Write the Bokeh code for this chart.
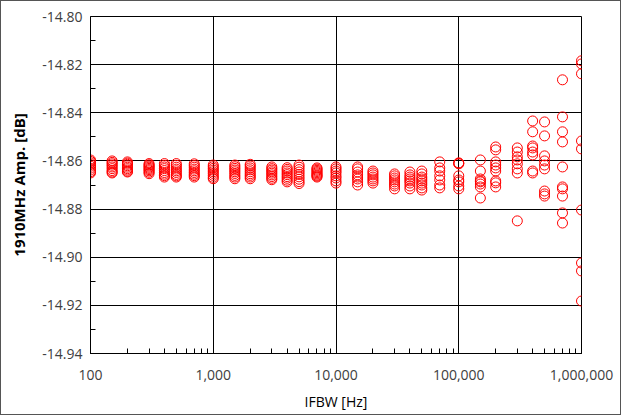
from bokeh.plotting import figure
from bokeh.embed import file_html
from bokeh.resources import INLINE
from bokeh.models import NumeralTickFormatter, FixedTicker, LogTicker

ifbw = [100, 150, 200, 300, 400, 500, 700, 1000, 1500, 2000, 3000, 4000, 5000, 7000,
        10000, 15000, 20000, 30000, 40000, 50000, 70000, 100000, 150000, 200000,
        300000, 400000, 500000, 700000, 1000000]

amp = [
    [-14.8596, -14.8602, -14.8608, -14.8615, -14.8622, -14.8630, -14.8638, -14.8645, -14.8650],
    [-14.8600, -14.8606, -14.8612, -14.8618, -14.8625, -14.8632, -14.8640, -14.8646, -14.8650],
    [-14.8604, -14.8609, -14.8614, -14.8620, -14.8626, -14.8632, -14.8638, -14.8643, -14.8646],
    [-14.8611, -14.8616, -14.8621, -14.8626, -14.8631, -14.8636, -14.8641, -14.8647, -14.8653],
    [-14.8611, -14.8618, -14.8625, -14.8632, -14.8640, -14.8648, -14.8655, -14.8661, -14.8667],
    [-14.8611, -14.8618, -14.8626, -14.8634, -14.8641, -14.8648, -14.8656, -14.8662, -14.8667],
    [-14.8612, -14.8619, -14.8626, -14.8634, -14.8641, -14.8648, -14.8655, -14.8661, -14.8667],
    [-14.8617, -14.8624, -14.8631, -14.8638, -14.8645, -14.8652, -14.8660, -14.8668, -14.8674],
    [-14.8617, -14.8624, -14.8631, -14.8638, -14.8645, -14.8652, -14.8660, -14.8667, -14.8674],
    [-14.8614, -14.8621, -14.8629, -14.8637, -14.8645, -14.8653, -14.8660, -14.8667, -14.8674],
    [-14.8625, -14.8632, -14.8638, -14.8645, -14.8651, -14.8658, -14.8665, -14.8672, -14.8678],
    [-14.8628, -14.8635, -14.8642, -14.8650, -14.8657, -14.8665, -14.8672, -14.8680, -14.8687],
    [-14.8617, -14.8626, -14.8636, -14.8646, -14.8656, -14.8666, -14.8676, -14.8686, -14.8694],
    [-14.8629, -14.8634, -14.8639, -14.8644, -14.8649, -14.8654, -14.8659, -14.8663, -14.8667],
    [-14.8625, -14.8633, -14.8642, -14.8650, -14.8662, -14.8671, -14.8683, -14.8692],
    [-14.8625, -14.8633, -14.8646, -14.8658, -14.8667, -14.8675, -14.8687, -14.8700],
    [-14.8642, -14.8650, -14.8658, -14.8667, -14.8675, -14.8683, -14.8692],
    [-14.8654, -14.8662, -14.8671, -14.8679, -14.8687, -14.8696, -14.8704, -14.8716],
    [-14.8646, -14.8658, -14.8667, -14.8675, -14.8683, -14.8692, -14.8704, -14.8716],
    [-14.8642, -14.8654, -14.8667, -14.8675, -14.8683, -14.8692, -14.8700, -14.8712, -14.8721],
    [-14.8604, -14.8629, -14.8642, -14.8662, -14.8679, -14.8700, -14.8712],
    [-14.8608, -14.8610, -14.8612, -14.8662, -14.8679, -14.8687, -14.8704, -14.8716],
    [-14.8596, -14.8642, -14.8675, -14.8683, -14.8687, -14.8696, -14.8708, -14.8754],
    [-14.8542, -14.8554, -14.8604, -14.8617, -14.8629, -14.8642, -14.8683, -14.8691, -14.8708],
    [-14.8546, -14.8563, -14.8583, -14.8596, -14.8612, -14.8633, -14.8650, -14.8849],
    [-14.8434, -14.8479, -14.8538, -14.8546, -14.8563, -14.8575, -14.8642, -14.8650],
    [-14.8438, -14.8496, -14.8579, -14.8600, -14.8617, -14.8633, -14.8725, -14.8737, -14.8746],
    [-14.8263, -14.8417, -14.8479, -14.8521, -14.8625, -14.8708, -14.8716, -14.8746, -14.8816, -14.8858],
    [-14.8184, -14.8197, -14.8238, -14.8517, -14.8550, -14.8804, -14.9024, -14.9057, -14.9182],
]

y_ticks = [-14.94, -14.92, -14.90, -14.88, -14.86, -14.84, -14.82, -14.80]
x_label = "IFBW [Hz]"
y_label = "1910MHz Amp. [dB]"

xs, ys = [], []
for f, vals in zip(ifbw, amp):
    for v in vals:
        xs.append(f)
        ys.append(v)

p = figure(width=621, height=415, x_axis_type="log",
           x_range=(100, 1000000), y_range=(-14.94, -14.80),
           output_backend="svg", toolbar_location=None,
           min_border_left=89, min_border_right=41, min_border_top=15, min_border_bottom=63)
p.styles = {"border": "1px solid #555555"}
p.background_fill_color = "white"
p.border_fill_color = "white"
p.outline_line_color = "black"
p.outline_line_width = 1

p.scatter(xs, ys, marker="circle", size=10, fill_color=None,
          line_color="#ff0000", line_width=1)

p.xaxis.ticker = LogTicker(num_minor_ticks=10)
p.xaxis.formatter = NumeralTickFormatter(format="0,0")
p.yaxis.ticker = FixedTicker(ticks=y_ticks, minor_ticks=[-14.93, -14.91, -14.89, -14.87, -14.85, -14.83, -14.81])
p.yaxis.formatter = NumeralTickFormatter(format="0.00")

for ax in (p.xaxis, p.yaxis):
    ax.axis_line_color = "black"
    ax.major_tick_in = 0
    ax.major_tick_out = 0
    ax.minor_tick_in = 5
    ax.minor_tick_out = 0
    ax.minor_tick_line_color = "black"
    ax.major_label_text_font = "Open Sans"
    ax.major_label_text_font_size = "14px"
    ax.major_label_text_color = "#404040"
    ax.axis_label_text_font = "Open Sans"
    ax.axis_label_text_color = "black"
    ax.axis_label_text_font_style = "normal"

p.xaxis.axis_label = x_label
p.xaxis.axis_label_text_font_size = "14px"
p.xaxis.major_label_standoff = 16
p.xaxis.axis_label_standoff = 9
p.yaxis.axis_label = y_label
p.yaxis.axis_label_text_font_size = "15px"
p.yaxis.axis_label_text_font_style = "bold"
p.yaxis.major_label_standoff = 8
p.yaxis.axis_label_standoff = 10

p.xgrid.grid_line_color = "black"
p.ygrid.grid_line_color = "black"
p.xgrid.grid_line_alpha = 1
p.ygrid.grid_line_alpha = 1

open("out.html", "w").write(file_html(p, INLINE))
